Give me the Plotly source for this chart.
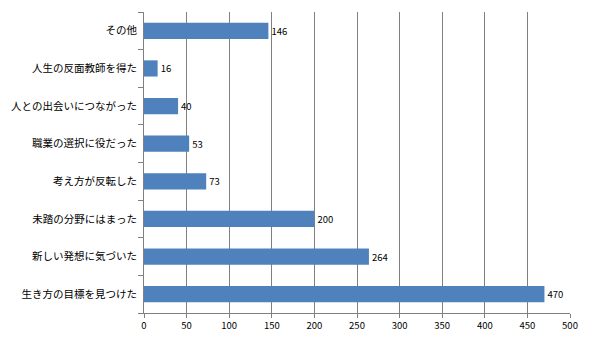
import plotly.graph_objects as go

categories = ["生き方の目標を見つけた", "新しい発想に気づいた", "未踏の分野にはまった", "考え方が反転した",
              "職業の選択に役だった", "人との出会いにつながった", "人生の反面教師を得た", "その他"]
values = [470, 264, 200, 73, 53, 40, 16, 146]
x_ticks = [0, 50, 100, 150, 200, 250, 300, 350, 400, 450, 500]

font_family = "Noto Sans CJK JP, sans-serif"

fig = go.Figure(go.Bar(
    y=categories, x=values, orientation="h",
    marker=dict(color="#4F81BD", line=dict(width=0)),
    text=[str(v) for v in values], textposition="outside",
    textfont=dict(size=9.5, color="#000000", family=font_family),
    cliponaxis=False,
))

fig.update_layout(
    width=599, height=351,
    margin=dict(l=144, r=29, t=12, b=38),
    paper_bgcolor="white", plot_bgcolor="white",
    bargap=0.57,
    showlegend=False,
    font=dict(family=font_family, size=10, color="#000000"),
    xaxis=dict(
        range=[0, 500], tickvals=x_ticks, ticktext=[str(t) for t in x_ticks],
        showgrid=True, gridcolor="#808080", gridwidth=1,
        showline=True, linecolor="#808080", linewidth=1,
        ticks="outside", ticklen=4, tickcolor="#808080",
        zeroline=False, tickfont=dict(size=9.5),
    ),
    yaxis=dict(
        categoryorder="array", categoryarray=categories,
        showline=True, linecolor="#808080", linewidth=1,
        ticks="outside", ticklen=5, tickcolor="#808080", tickson="boundaries",
        showgrid=False, tickfont=dict(size=10.5), ticklabelstandoff=4,
    ),
)

fig.write_html("out.html")
